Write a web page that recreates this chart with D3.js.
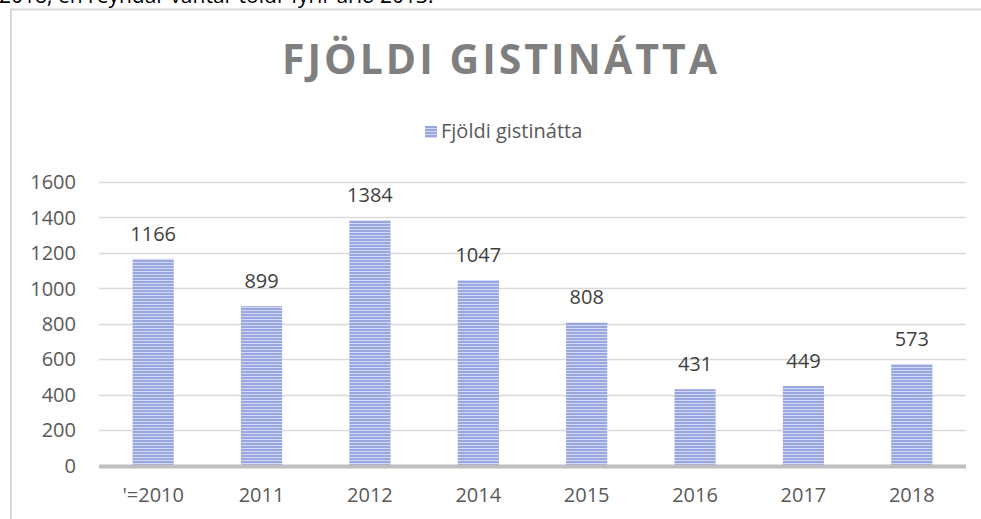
<!DOCTYPE html>
<html>
<head>
<meta charset="utf-8">
<script src="https://cdn.jsdelivr.net/npm/d3@7"></script>
<style>
  html, body { margin: 0; background: #fff; overflow: hidden; }
  svg { display: block; font-family: "Open Sans", sans-serif; }
</style>
</head>
<body>
<div id="chart"></div>
<script>
// data
var years = ["'=2010", "2011", "2012", "2014", "2015", "2016", "2017", "2018"];
var nights = [1166, 899, 1384, 1047, 808, 431, 449, 573];
var yTicks = [0, 200, 400, 600, 800, 1000, 1200, 1400, 1600];
var seriesName = "Fjöldi gistinátta";
var chartTitle = "FJÖLDI GISTINÁTTA";
var aboveText = "2018, en reyndar vantar tölur fyrir árið 2013.";

var W = 981, H = 519;
var margin = {top: 182, bottom: 54, left: 99, right: 15};
var width = W - margin.left - margin.right;
var height = H - margin.top - margin.bottom;

var svg = d3.select("#chart")
    .append("svg")
        .attr("width", W)
        .attr("height", H);

// striped bar fill
var defs = svg.append("defs");
var pat = defs.append("pattern")
    .attr("id", "stripes")
    .attr("patternUnits", "userSpaceOnUse")
    .attr("width", 6)
    .attr("height", 3);
pat.append("rect")
    .attr("width", 6).attr("height", 3)
    .attr("fill", "#d3d9f4");
pat.append("rect")
    .attr("width", 6).attr("height", 2)
    .attr("fill", "#98a7e0");

// text of the page above the chart, cut off by the crop
svg.append("text")
    .attr("x", -1)
    .attr("y", 3)
    .attr("font-size", 21)
    .attr("fill", "#000")
    .text(aboveText);

// chart frame, only left and top edges are in view
svg.append("line")
    .attr("x1", 11).attr("x2", 11)
    .attr("y1", 9).attr("y2", H)
    .attr("stroke", "#d9d9d9")
    .attr("stroke-width", 2);
svg.append("line")
    .attr("x1", 10).attr("x2", W + 5)
    .attr("y1", 9.5).attr("y2", 9.5)
    .attr("stroke", "#d9d9d9")
    .attr("stroke-width", 2);

svg.append("text")
    .attr("x", 501)
    .attr("y", 74)
    .attr("text-anchor", "middle")
    .attr("font-size", 41)
    .attr("font-weight", "bold")
    .attr("letter-spacing", 3)
    .attr("fill", "#7f7f7f")
    .text(chartTitle);

// legend
var legend = svg.append("g").attr("transform", "translate(425,126)");
legend.append("rect")
    .attr("width", 12).attr("height", 12)
    .attr("fill", "url(#stripes)");
legend.append("text")
    .attr("x", 16)
    .attr("y", 12)
    .attr("font-size", 20)
    .attr("fill", "#595959")
    .text(seriesName);

var g = svg.append("g")
    .attr("transform", "translate(" + margin.left + "," + margin.top + ")");

var x_scale = d3.scaleBand()
    .domain(years)
    .range([0, width])
    .paddingInner(0.62)
    .paddingOuter(0.31);

var y_scale = d3.scaleLinear()
    .domain([0, 1600])
    .range([height + 0.5, 0]);

// gridlines
g.selectAll(".grid")
    .data(yTicks.slice(1))
    .enter()
    .append("line")
    .attr("class", "grid")
    .attr("x1", 0)
    .attr("x2", width)
    .attr("y1", function(d) { return Math.round(y_scale(d)) + 0.5; })
    .attr("y2", function(d) { return Math.round(y_scale(d)) + 0.5; })
    .attr("stroke", "#d9d9d9")
    .attr("stroke-width", 1.5);

// y tick labels
g.selectAll(".ylab")
    .data(yTicks)
    .enter()
    .append("text")
    .attr("class", "ylab")
    .attr("x", -23)
    .attr("y", function(d) { return y_scale(d); })
    .attr("dy", "0.36em")
    .attr("text-anchor", "end")
    .attr("font-size", 20)
    .attr("fill", "#595959")
    .text(function(d) { return d; });

// bars
g.selectAll(".bar")
    .data(nights)
    .enter()
    .append("rect")
    .attr("class", "bar")
    .attr("x", function(d, i) { return x_scale(years[i]); })
    .attr("width", x_scale.bandwidth())
    .attr("y", function(d) { return y_scale(d); })
    .attr("height", function(d) { return y_scale(0) - y_scale(d); })
    .attr("fill", "url(#stripes)");

// value labels
g.selectAll(".val")
    .data(nights)
    .enter()
    .append("text")
    .attr("class", "val")
    .attr("x", function(d, i) { return x_scale(years[i]) + x_scale.bandwidth() / 2; })
    .attr("y", function(d) { return y_scale(d) - 18; })
    .attr("text-anchor", "middle")
    .attr("font-size", 20)
    .attr("fill", "#404040")
    .text(function(d) { return d; });

// x axis line
g.append("line")
    .attr("x1", 0)
    .attr("x2", width)
    .attr("y1", y_scale(0) + 1)
    .attr("y2", y_scale(0) + 1)
    .attr("stroke", "#bfbfbf")
    .attr("stroke-width", 4);

// x labels
g.selectAll(".xlab")
    .data(years)
    .enter()
    .append("text")
    .attr("class", "xlab")
    .attr("x", function(d) { return x_scale(d) + x_scale.bandwidth() / 2; })
    .attr("y", height + 37)
    .attr("text-anchor", "middle")
    .attr("font-size", 20)
    .attr("fill", "#595959")
    .text(function(d) { return d; });
</script>
</body>
</html>
